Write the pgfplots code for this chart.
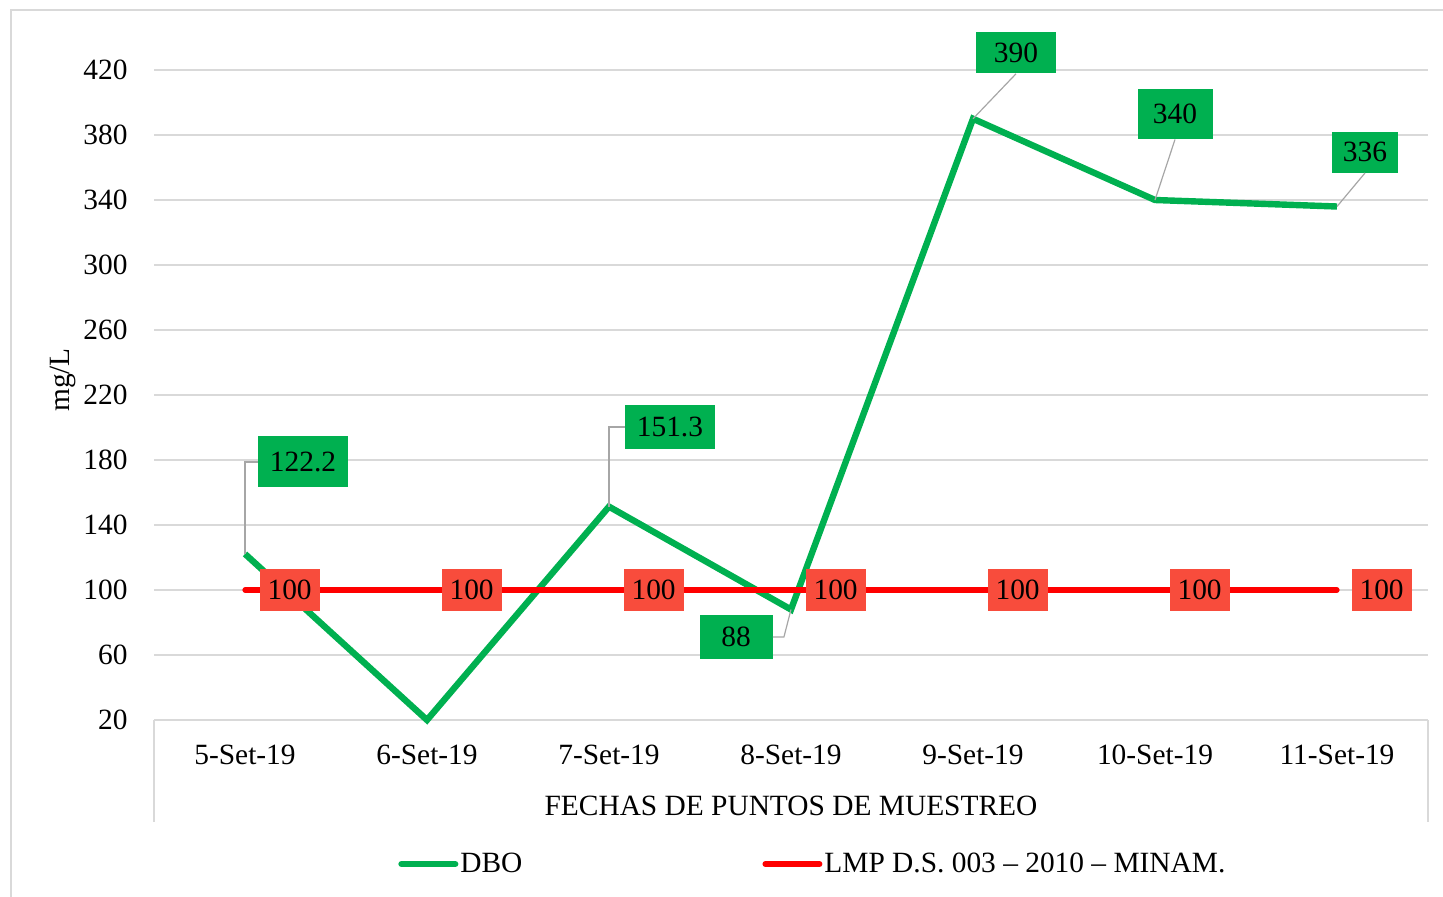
\documentclass[border=0pt]{standalone}
\usepackage{pgfplots}
\pgfplotsset{compat=1.18}
\usepackage{fontspec}
\setmainfont{Liberation Serif}

\definecolor{dbogreen}{RGB}{0,176,80}
\definecolor{lmpred}{RGB}{255,0,0}
\definecolor{lblred}{RGB}{248,76,60}
\definecolor{gridgray}{RGB}{217,217,217}
\definecolor{leadgray}{RGB}{166,166,166}

\begin{document}
\begin{tikzpicture}[font=\fontsize{14.7}{17}\selectfont,
  glbl/.style={fill=dbogreen, text=black, inner sep=0pt}]
\useasboundingbox (-77pt,-88pt) rectangle (644.5pt,360pt);
% outer chart frame
\draw[gridgray, line width=1pt] (-71.5pt,-100pt) -- (-71.5pt,355pt) -- (660pt,355pt);
\begin{axis}[
    scale only axis,
    width=637pt, height=341.25pt,
    xmin=0.5, xmax=7.5,
    ymin=20, ymax=440,
    clip=false,
    axis x line*=bottom, axis y line*=left,
    x axis line style={draw=gridgray, line width=0.75pt, -},
    y axis line style={draw=none},
    major tick length=0pt,
    xtick={1,...,7},
    xticklabels={5-Set-19,6-Set-19,7-Set-19,8-Set-19,9-Set-19,10-Set-19,11-Set-19},
    ytick={20,60,...,420},
    ymajorgrids,
    grid style={gridgray, line width=0.75pt},
    /pgf/number format/assume math mode=true,
    tick label style={font=\fontsize{14.7}{17}\selectfont},
    yticklabel style={anchor=east, inner sep=0pt, xshift=-13pt},
    xticklabel style={anchor=center, yshift=-17.5pt, inner sep=0pt},
    xlabel={FECHAS DE PUNTOS DE MUESTREO},
    xlabel style={at={(axis description cs:0.5,0)}, anchor=center, yshift=-43pt, inner sep=0pt},
    legend columns=2,
    legend style={draw=none, fill=none, at={(axis description cs:0.1915,-0.211)},
      anchor=west, inner sep=0pt, font=\fontsize{14.7}{17}\selectfont,
      /tikz/every even column/.append style={column sep=119pt},
      nodes={inner xsep=1pt}},
    legend image code/.code={\draw[#1, line width=3pt, line cap=round] (0pt,0pt) -- (27pt,0pt);},
]
\addplot[dbogreen, line width=3.2pt] coordinates {
  (1,122.2) (2,20) (3,151.3) (4,88) (5,390) (6,340) (7,336)
};
\addlegendentry{DBO}
\addplot[lmpred, line width=2.6pt, line cap=round,
  nodes near coords,
  every node near coord/.append style={fill=lblred, text=black, anchor=west,
    xshift=6pt, minimum width=30pt, minimum height=21pt, inner sep=0pt,
    font=\fontsize{14.7}{17}\selectfont}] coordinates {
  (1,100) (2,100) (3,100) (4,100) (5,100) (6,100) (7,100)
};
\addlegendentry{LMP D.S. 003 – 2010 – MINAM.}

% data labels of DBO with leader lines
\node[glbl, minimum width=45pt, minimum height=25.5pt] (a) at (axis cs:1.319,178.8) {122.2};
\draw[leadgray, line width=0.6pt] (axis cs:1,122.2) |- (a.west);
\node[glbl, minimum width=45pt, minimum height=22pt] (b) at (axis cs:3.335,200.3) {151.3};
\draw[leadgray, line width=0.6pt] (axis cs:3,151.3) |- (b.west);
\node[glbl, minimum width=36.5pt, minimum height=22pt] (c) at (axis cs:3.698,71.1) {88};
\draw[leadgray, line width=0.6pt] (c.east) -- ++(5.5pt,0pt) -- (axis cs:4,88);
\node[glbl, minimum width=40pt, minimum height=20.5pt] (d) at (axis cs:5.236,430.5) {390};
\draw[leadgray, line width=0.6pt] (d.south) -- (axis cs:5,390);
\node[glbl, minimum width=37.5pt, minimum height=25pt] (e) at (axis cs:6.110,392.9) {340};
\draw[leadgray, line width=0.6pt] (e.south) -- (axis cs:6,340);
\node[glbl, minimum width=33pt, minimum height=20.5pt] (f) at (axis cs:7.154,369.5) {336};
\draw[leadgray, line width=0.6pt] (f.south) -- (axis cs:7,336);
\end{axis}
% category box sides
\draw[gridgray, line width=0.75pt] (0pt,0pt) -- (0pt,-51pt);
\draw[gridgray, line width=0.75pt] (637pt,0pt) -- (637pt,-51pt);
% y axis title
\node[rotate=90] at (-45.5pt,170pt) {mg/L};
\end{tikzpicture}
\end{document}
